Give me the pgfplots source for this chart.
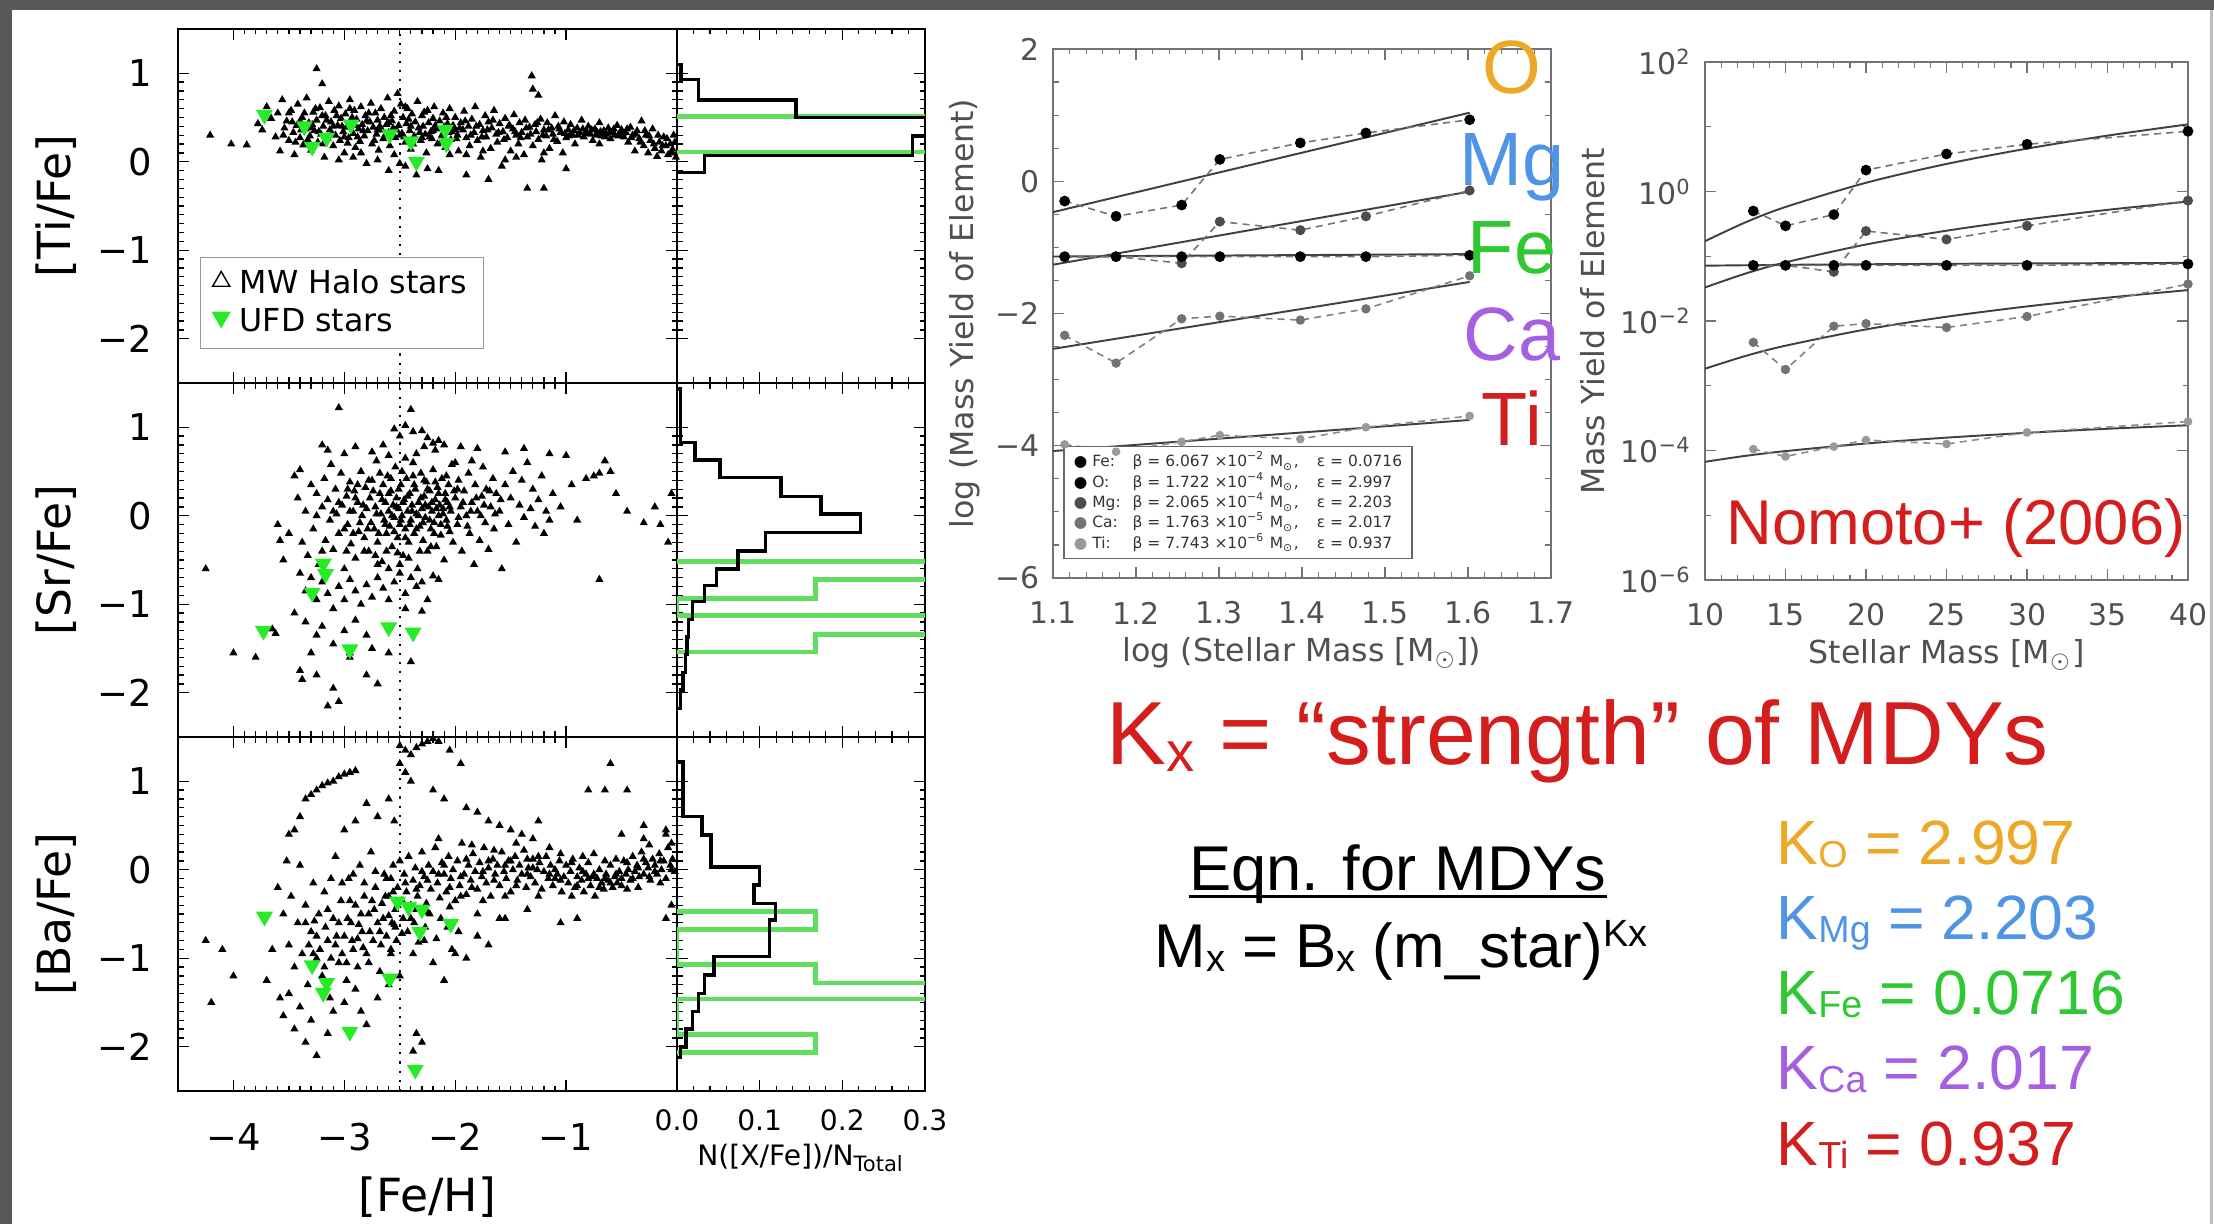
\documentclass[border=0pt]{standalone}
\usepackage{fontspec}
\usepackage{pgfplots}
\pgfplotsset{compat=1.18}
\setmainfont{DejaVu Sans}
\newfontfamily\arial{Liberation Sans}
\definecolor{ufdgreen}{RGB}{40,235,40}
\definecolor{histgreen}{RGB}{95,222,95}
\definecolor{cO}{RGB}{238,168,40}
\definecolor{cMg}{RGB}{80,148,230}
\definecolor{cFe}{RGB}{45,200,50}
\definecolor{cCa}{RGB}{165,95,225}
\definecolor{cTi}{RGB}{210,30,30}
\definecolor{kred}{RGB}{212,30,30}
\definecolor{slidegray}{RGB}{88,88,88}
\definecolor{axgray}{RGB}{115,115,115}
\definecolor{txtgray}{RGB}{80,80,80}
\newcommand{\ksub}[1]{\raisebox{-1pt}{\fontsize{10.7}{11}\selectfont #1}}
\newcommand{\xsub}[1]{\raisebox{-1.4pt}{\fontsize{10.8}{11}\selectfont #1}}
\newcommand{\xsup}[1]{\raisebox{5.9pt}{\fontsize{10.8}{11}\selectfont #1}}
\pgfplotsset{
  leftbase/.style={scale only axis, height=35.4mm, ymin=-2.5, ymax=1.5, ytick={-2,-1,0,1},
    minor y tick num=9, tick align=inside, major tick length=1.1mm, minor tick length=0.55mm,
    tick style={black, line width=0.35pt}, axis line style={black, line width=0.8pt}},
  scat/.style={leftbase, width=49.9mm, xmin=-4.5, xmax=0, xtick={-4,-3,-2,-1}, minor x tick num=9,
    yticklabels={−2,−1,0,1},
    y tick label style={anchor=east, inner sep=0pt, xshift=-2.5mm, font=\fontsize{10.5}{12}\selectfont},
    x tick label style={anchor=center, inner sep=0pt, yshift=-4.6mm, font=\fontsize{10.5}{12}\selectfont},
    ylabel style={at={(axis description cs:-0.2445,0.5)}, anchor=center, font=\fontsize{13}{15}\selectfont}},
  hist/.style={leftbase, width=24.8mm, xmin=0, xmax=0.3, xtick={0,0.1,0.2,0.3}, minor x tick num=4, yticklabels={},
    x tick label style={anchor=center, inner sep=0pt, yshift=-2.9mm, font=\fontsize{8}{10}\selectfont}},
  halo/.style={only marks, mark=triangle*, mark size=0.95pt, black, forget plot},
  ufd/.style={only marks, mark=triangle*, mark size=2.4pt, mark options={rotate=180, fill=ufdgreen, draw=ufdgreen}, forget plot},
  hblack/.style={black, line width=1pt, forget plot, sharp plot},
  hgreen/.style={histgreen, line width=1.4pt, forget plot, sharp plot},
  vdot/.style={black, dotted, line width=0.6pt, forget plot},
  yieldax/.style={scale only axis, tick align=inside, major tick length=1.1mm, minor tick length=0.55mm,
    axis line style={axgray, line width=0.5pt}, tick style={axgray, line width=0.35pt},
    x tick label style={anchor=center, inner sep=0pt, yshift=-3.5mm, font=\fontsize{8.5}{10}\selectfont, text=txtgray},
    y tick label style={anchor=east, inner sep=0pt, xshift=-1.3mm, font=\fontsize{8.5}{10}\selectfont, text=txtgray},
    xlabel style={anchor=center, font=\fontsize{9}{11}\selectfont, text=txtgray},
    ylabel style={anchor=center, font=\fontsize{9}{11}\selectfont, text=txtgray}},
  fitline/.style={black!75, line width=0.55pt},
  dO/.style={dash pattern=on 2pt off 1.5pt, black!55, line width=0.45pt, mark=*, mark size=1.3pt, mark options={solid, fill=black, draw=black}},
  dMg/.style={dash pattern=on 2pt off 1.5pt, black!55, line width=0.45pt, mark=*, mark size=1.2pt, mark options={solid, fill=black!70, draw=black!70}},
  dFe/.style={dash pattern=on 2pt off 1.5pt, black!55, line width=0.45pt, mark=*, mark size=1.3pt, mark options={solid, fill=black, draw=black}},
  dCa/.style={dash pattern=on 2pt off 1.5pt, black!50, line width=0.45pt, mark=*, mark size=1.1pt, mark options={solid, fill=black!55, draw=black!55}},
  dTi/.style={dash pattern=on 2pt off 1.5pt, black!45, line width=0.45pt, mark=*, mark size=1.0pt, mark options={solid, fill=black!40, draw=black!40}},
}
\begin{document}
\begin{tikzpicture}
\useasboundingbox (0,0) rectangle (221.4mm,-122.4mm);
\fill[slidegray] (0,0) rectangle (221.4mm,-122.4mm);
\fill[white] (1.2mm,-1.0mm) rectangle (221.4mm,-122.4mm);
\draw[black!25, line width=0.3mm] (221.1mm,-1.0mm) -- (221.1mm,-122.4mm);
% ---------------- panel 1: Ti
\begin{axis}[scat, at={(17.8mm,-2.9mm)}, anchor=north west, xticklabels={}, ylabel={[Ti/Fe]},
  legend style={at={(0.044,0.096)}, anchor=south west, draw=black!40, fill=white, inner xsep=1.2mm, inner ysep=0.8mm,
  font=\fontsize{9}{10}\selectfont, nodes={inner sep=0.4mm}, row sep=0.1mm, column sep=0.6mm}, legend cell align=left]
\addplot[vdot] coordinates {(-2.5,-2.5) (-2.5,1.5)};
\addplot[halo] coordinates {
(-4.21,0.30) (-4.02,0.20) (-3.88,0.19) (-3.78,0.43) (-3.74,0.36) (-3.70,0.62) (-3.66,0.49) (-3.62,0.28) (-3.60,0.55) (-3.58,0.12) (-3.56,0.70) (-3.54,0.38) (-3.52,0.46) (-3.50,0.24)
(-3.48,0.58) (-3.46,0.33) (-3.45,0.08) (-3.43,0.41) (-3.42,0.65) (-3.40,0.27) (-3.38,0.50) (-3.37,0.19) (-3.35,0.37) (-3.34,0.72) (-3.32,0.44) (-3.31,0.29) (-3.30,0.13) (-3.28,0.56) (-3.27,0.35) (-3.25,1.05) (-3.25,0.47) (-3.24,0.22) (-3.22,0.61) (-3.21,0.31) (-3.20,0.88) (-3.19,0.40) (-3.18,0.05) (-3.17,0.52) (-3.15,0.26) (-3.14,0.68) (-3.13,0.36) (-3.12,0.45) (-3.10,0.18) (-3.09,0.58) (-3.08,0.30) (-3.06,0.41) (-3.05,0.63) (-3.04,0.24) (-3.03,0.49) (-3.01,0.34) (-3.00,0.10) (-2.99,0.54) (-2.98,0.39) (-2.96,0.27) (-2.95,0.70) (-2.94,0.44) (-2.92,0.32) (-2.91,0.58) (-2.90,0.16) (-2.89,0.48) (-2.87,0.37) (-2.86,0.23) (-2.85,0.62) (-2.84,0.42) (-2.82,0.29) (-2.81,0.52) (-2.80,-0.02) (-2.79,0.35) (-2.77,0.45) (-2.76,0.66) (-2.75,0.20) (-2.74,0.39) (-2.72,0.55) (-2.71,0.31) (-2.70,0.47) (-2.69,0.13) (-2.67,0.60) (-2.66,0.36) (-2.65,0.26) (-2.64,0.50) (-2.62,0.42) (-2.61,0.72) (-2.60,0.33) (-2.59,0.18) (-2.57,0.46) (-2.56,0.38) (-2.55,0.57) (-2.54,0.27) (-2.52,0.77) (-2.51,0.41) (-2.50,-0.02) (-2.49,0.65) (-2.48,0.32) (-2.47,0.50) (-2.45,0.22) (-2.44,0.43) (-2.43,0.60) (-2.41,0.35) (-2.40,0.14) (-2.39,0.54) (-2.37,0.29) (-2.36,0.45) (-2.35,-0.15) (-2.34,0.68) (-2.33,0.38) (-2.31,0.24) (-2.30,0.52) (-2.29,0.40) (-2.27,0.31) (-2.26,0.10) (-2.25,0.58) (-2.24,0.44) (-2.22,0.34) (-2.21,0.26) (-2.20,0.49) (-2.19,0.62) (-2.17,0.37) (-2.16,0.20) (-2.15,-0.10) (-2.14,0.46) (-2.12,0.30) (-2.11,0.55) (-2.10,0.39) (-2.09,0.16) (-2.07,0.43) (-2.06,0.33) (-2.05,0.60) (-2.04,0.25)
(-2.02,0.41) (-2.00,0.50) (-1.98,0.30) (-1.97,0.12) (-1.95,0.44) (-1.93,0.36) (-1.92,0.57) (-1.90,0.27) (-1.88,0.40) (-1.87,0.18) (-1.85,0.48) (-1.83,0.33) (-1.82,0.62) (-1.80,0.24) (-1.78,0.42) (-1.77,0.05) (-1.75,0.35) (-1.73,0.52) (-1.72,0.28) (-1.70,0.45) (-1.68,0.15) (-1.67,0.38) (-1.65,0.58) (-1.63,0.31) (-1.62,0.22) (-1.60,0.43) (-1.58,-0.05) (-1.57,0.34) (-1.55,0.49) (-1.53,0.27) (-1.52,0.40) (-1.50,0.12) (-1.48,0.37) (-1.47,0.53) (-1.45,0.30) (-1.43,0.20) (-1.42,0.44) (-1.40,0.33) (-1.38,0.08) (-1.37,0.47) (-1.35,-0.30) (-1.35,0.28) (-1.33,0.39) (-1.31,0.97) (-1.30,0.82) (-1.30,0.18) (-1.28,0.42) (-1.27,0.34) (-1.25,0.75) (-1.25,0.25) (-1.23,0.48) (-1.22,0.02) (-1.20,-0.30) (-1.20,0.36) (-1.18,0.29) (-1.17,0.44) (-1.15,0.15) (-1.13,0.38) (-1.12,0.31) (-1.10,0.52) (-1.08,0.23) (-1.07,0.40) (-1.05,0.33) (-1.03,0.10) (-1.02,0.45) (-1.00,-0.08) (-1.00,0.27)
(-0.98,0.36) (-0.96,0.42) (-0.94,0.30) (-0.92,0.20) (-0.90,0.38) (-0.88,0.33) (-0.86,0.47) (-0.84,0.28) (-0.82,0.35) (-0.80,0.40) (-0.78,0.31) (-0.76,0.24) (-0.74,0.37) (-0.72,0.33) (-0.70,0.44) (-0.68,0.29) (-0.66,0.35) (-0.64,0.31) (-0.62,0.38) (-0.60,0.26) (-0.58,0.34) (-0.56,0.30) (-0.54,0.41) (-0.52,0.32) (-0.50,0.36) (-0.48,0.28) (-0.46,0.33) (-0.44,0.22) (-0.42,0.39) (-0.40,0.30) (-0.38,0.12) (-0.36,0.35) (-0.34,0.26) (-0.32,0.46) (-0.30,0.18) (-0.28,0.30) (-0.26,0.10) (-0.24,0.24) (-0.22,0.37) (-0.20,0.15) (-0.18,0.06) (-0.16,0.22) (-0.14,0.12) (-0.12,0.28) (-0.10,0.18) (-0.08,0.08) (-0.06,0.20) (-0.04,0.14) (-0.02,0.22) (-0.01,0.05)
(-2.45,-0.05) (-2.60,-0.10) (-2.25,-0.08) (-1.90,-0.15) (-1.70,-0.20) (-3.05,0.02) (-2.92,0.05) (-2.70,0.02) (-1.45,0.05) (-1.55,0.02)
(-3.55,0.30) (-3.47,0.45) (-3.44,0.22) (-3.39,0.36) (-3.36,0.55) (-3.33,0.25) (-3.29,0.42) (-3.26,0.60) (-3.23,0.34) (-3.19,0.20) (-3.16,0.47) (-3.11,0.31) (-3.07,0.52) (-3.02,0.40) (-2.97,0.21) (-2.93,0.50) (-2.88,0.28) (-2.83,0.35) (-2.78,0.55) (-2.73,0.24) (-2.68,0.40) (-2.63,0.30) (-2.58,0.52) (-2.53,0.36) (-2.46,0.28) (-2.42,0.48) (-2.38,0.20) (-2.32,0.33) (-2.28,0.56) (-2.23,0.28) (-2.18,0.41) (-2.13,0.22) (-2.08,0.50) (-2.03,0.34) (-1.99,0.26) (-1.96,0.38) (-1.91,0.46) (-1.86,0.30) (-1.81,0.40) (-1.76,0.28) (-1.71,0.36) (-1.66,0.47) (-1.61,0.33) (-1.56,0.25) (-1.51,0.41) (-1.46,0.34) (-1.41,0.27) (-1.36,0.38) (-1.32,0.31) (-1.26,0.44) (-1.21,0.30) (-1.16,0.36) (-1.11,0.25) (-1.06,0.37) (-1.01,0.32) (-0.97,0.29) (-0.93,0.35) (-0.89,0.30) (-0.85,0.37) (-0.81,0.32) (-0.77,0.36) (-0.73,0.30) (-0.69,0.34) (-0.65,0.28) (-0.61,0.33) (-0.57,0.37) (-0.53,0.29) (-0.49,0.32) (-0.45,0.37) (-0.41,0.27) (-0.37,0.31) (-0.33,0.22) (-0.29,0.35) (-0.25,0.29) (-0.21,0.20) (-0.17,0.30) (-0.13,0.18) (-0.09,0.26) (-0.05,0.10) (-0.03,0.30) (-3.00,0.28) (-2.90,0.41) (-2.80,0.46) (-2.70,0.36) (-2.60,0.44) (-2.50,0.30) (-2.40,0.40) (-2.30,0.27) (-2.20,0.35) (-2.10,0.27) (-2.00,0.36) (-3.10,0.40) (-3.20,0.52) (-3.30,0.38) (-3.40,0.46) (-2.85,0.10) (-2.55,0.08) (-2.05,0.08) (-1.75,0.12) (-1.20,0.10) (-0.70,0.20) (-3.50,0.55) (-2.95,0.60) (-2.45,0.62) (-1.90,0.08)
};
\addplot[ufd] coordinates {(-3.72,0.53) (-3.36,0.40) (-3.29,0.17) (-3.16,0.27) (-2.94,0.42) (-2.59,0.31) (-2.40,0.23) (-2.35,0.00) (-2.09,0.36) (-2.08,0.21)};
\addlegendimage{legend image code/.code={\draw[black, line width=0.4pt, mark size=2.8pt] plot[mark=triangle] coordinates {(0.1cm,0.03cm)};}}
\addlegendentry{MW Halo stars}
\addlegendimage{legend image code/.code={\draw[ufdgreen, mark size=2.8pt] plot[mark=triangle*, mark options={rotate=180}] coordinates {(0.1cm,0.05cm)};}}
\addlegendentry{UFD stars}
\end{axis}
\begin{axis}[hist, at={(67.7mm,-2.9mm)}, anchor=north west, xticklabels={}]
\addplot[hgreen] coordinates {(0,0.51) (0.5,0.51) (0.5,0.11) (0,0.11)};
\addplot[hblack] coordinates {(0,1.10) (0.005,1.10) (0.005,0.93) (0.026,0.93) (0.026,0.70) (0.144,0.70) (0.144,0.50) (0.40,0.50) (0.40,0.29) (0.285,0.29) (0.285,0.07) (0.033,0.07) (0.033,-0.12) (0,-0.12)};
\end{axis}
% ---------------- panel 2: Sr
\begin{axis}[scat, at={(17.8mm,-38.3mm)}, anchor=north west, xticklabels={}, ylabel={[Sr/Fe]}]
\addplot[vdot] coordinates {(-2.5,-2.5) (-2.5,1.5)};
\addplot[halo] coordinates {
(-3.05,1.22) (-2.40,1.20) (-2.55,0.98) (-2.50,0.90) (-2.45,1.02) (-2.38,0.95) (-2.30,0.96) (-2.25,0.88) (-2.20,0.82) (-2.15,0.85) (-2.28,0.78) (-2.18,0.74) (-2.10,0.80) (-1.95,0.78) (-1.80,0.76) (-1.55,0.72) (-1.38,0.76) (-1.15,0.70) (-3.20,0.80) (-3.15,0.74) (-3.00,0.70) (-2.90,0.78) (-2.75,0.72) (-2.65,0.80) (-2.60,0.68)
(-3.45,0.45) (-3.42,0.20) (-3.40,0.52) (-3.38,-0.30) (-3.35,0.05) (-3.33,-0.45) (-3.30,0.35) (-3.28,-0.15) (-3.25,0.25) (-3.23,-0.55) (-3.20,0.10) (-3.18,0.42) (-3.17,-0.28) (-3.15,0.18) (-3.13,-0.05) (-3.12,0.58) (-3.10,-0.38) (-3.08,0.30) (-3.07,0.02) (-3.05,-0.20) (-3.03,0.48) (-3.02,0.12) (-3.00,-0.60) (-2.98,0.22) (-2.97,-0.10) (-2.95,0.38) (-2.94,-0.32) (-2.92,0.05) (-2.91,0.28) (-2.90,-0.48) (-2.88,0.15) (-2.87,-0.18) (-2.85,0.50) (-2.84,0.00) (-2.82,-0.25) (-2.81,0.32) (-2.80,0.08) (-2.78,-0.40) (-2.77,0.20) (-2.76,-0.08) (-2.75,0.40) (-2.73,-0.15) (-2.72,0.10) (-2.71,0.62) (-2.70,-0.30) (-2.68,0.25) (-2.67,0.02) (-2.66,-0.52) (-2.65,0.35) (-2.64,-0.05) (-2.63,0.15) (-2.62,-0.20) (-2.61,0.45) (-2.60,0.05) (-2.59,-0.12) (-2.58,0.28) (-2.57,-0.35) (-2.56,0.12) (-2.55,-0.02) (-2.54,0.55) (-2.53,0.20) (-2.52,-0.25) (-2.51,0.08) (-2.50,-0.10) (-2.49,0.35) (-2.48,0.00) (-2.47,-0.45) (-2.46,0.18) (-2.45,-0.15) (-2.44,0.42) (-2.43,0.05) (-2.42,-0.30) (-2.41,0.25) (-2.40,-0.05) (-2.39,0.12) (-2.38,0.60) (-2.37,-0.20) (-2.36,0.30) (-2.35,0.02) (-2.34,-0.60) (-2.33,0.15) (-2.32,-0.12) (-2.31,0.48) (-2.30,0.08) (-2.29,-0.28) (-2.28,0.22) (-2.27,-0.02) (-2.26,0.38) (-2.25,-0.40) (-2.24,0.10) (-2.23,0.28) (-2.22,-0.15) (-2.21,0.05) (-2.20,0.52) (-2.19,-0.08) (-2.18,0.18) (-2.17,-0.35) (-2.16,0.32) (-2.15,0.00) (-2.14,0.12) (-2.13,-0.22) (-2.12,0.42) (-2.11,0.08) (-2.10,-0.50) (-2.09,0.25) (-2.08,-0.05) (-2.07,0.15) (-2.06,0.35) (-2.05,-0.18) (-2.04,0.05) (-2.03,0.58) (-2.02,-0.30) (-2.00,0.20) (-1.98,-0.10) (-1.97,0.40) (-1.95,0.10) (-1.94,-0.40) (-1.92,0.28) (-1.90,0.00) (-1.88,0.48) (-1.87,-0.20) (-1.85,0.15) (-1.83,-0.55) (-1.82,0.35) (-1.80,0.05) (-1.78,-0.28) (-1.76,0.22) (-1.75,0.55) (-1.73,-0.08) (-1.72,0.30) (-1.70,-0.38) (-1.68,0.10) (-1.66,0.42) (-1.65,-0.15) (-1.63,0.25) (-1.60,0.05) (-1.58,-0.60) (-1.55,0.35) (-1.52,-0.10) (-1.50,0.20) (-1.48,0.50) (-1.45,-0.30) (-1.42,0.12) (-1.40,0.40) (-1.38,-0.02) (-1.35,0.60) (-1.32,0.08) (-1.30,0.30) (-1.28,-0.12) (-1.25,0.18) (-1.22,0.45) (-1.20,-0.20) (-1.18,0.05) (-1.15,-0.05) (-1.12,0.25)
(-1.05,0.10) (-0.95,0.35) (-0.90,-0.05) (-0.82,0.42) (-0.75,0.45) (-0.70,0.48) (-0.65,0.62) (-0.55,0.25) (-0.45,0.05) (-0.30,-0.08) (-0.20,0.10) (-0.15,-0.10) (-0.08,-0.30) (-0.05,0.25) (-0.60,0.50) (-1.00,0.68) (-0.70,-0.72)
(-3.60,-0.10) (-3.58,-0.28) (-3.55,-0.50) (-3.50,-0.20) (-3.40,-0.65) (-3.35,-0.85) (-3.30,-0.70) (-3.25,-0.95) (-3.20,-0.75) (-3.15,-0.88) (-3.10,-1.05) (-3.05,-0.80) (-3.00,-0.95) (-2.95,-0.72) (-2.90,-0.85) (-2.85,-1.00) (-2.80,-0.78) (-2.75,-0.92) (-2.70,-0.70) (-2.65,-0.82) (-2.60,-0.95) (-2.55,-0.75) (-2.50,-0.65) (-2.45,-0.88) (-2.40,-0.70) (-2.35,-0.80) (-2.30,-0.75) (-2.25,-0.95) (-2.20,-0.68) (-2.15,-0.72) (-2.45,-1.05) (-2.30,-1.08) (-3.45,-1.10) (-3.35,-1.20) (-3.25,-1.35) (-3.20,-1.25) (-3.10,-1.45) (-3.00,-1.30) (-2.90,-1.18) (-2.80,-1.35) (-2.75,-1.50) (-2.95,-1.55) (-3.30,-1.55) (-3.40,-1.75) (-3.38,-1.85) (-3.25,-1.80) (-3.10,-1.95) (-3.15,-2.15) (-3.05,-2.10) (-2.80,-1.80) (-2.70,-1.90) (-2.40,-1.65) (-2.60,-1.55) (-3.65,-1.28) (-3.62,-1.33) (-3.80,-1.60) (-4.25,-0.60) (-4.00,-1.55) (-2.95,-1.60)
(-2.95,0.05) (-2.90,0.20) (-2.86,-0.08) (-2.83,0.12) (-2.79,-0.15) (-2.74,0.28) (-2.71,0.02) (-2.69,-0.20) (-2.66,0.18) (-2.63,-0.10) (-2.60,0.25) (-2.57,0.00) (-2.55,-0.18) (-2.53,0.10) (-2.51,0.30) (-2.49,-0.05) (-2.47,0.15) (-2.45,-0.25) (-2.43,0.22) (-2.41,-0.10) (-2.39,0.05) (-2.37,0.35) (-2.35,-0.15) (-2.33,0.00) (-2.31,0.20) (-2.29,-0.08) (-2.27,0.12) (-2.25,0.30) (-2.23,-0.05) (-2.21,0.15) (-2.19,-0.20) (-2.17,0.08) (-2.15,0.25) (-2.13,-0.10) (-2.11,0.02) (-2.09,0.18) (-2.07,-0.12) (-2.05,0.10) (-2.01,0.28) (-1.97,-0.02) (-1.93,0.15) (-1.89,-0.12) (-1.86,0.05) (-1.81,0.20) (-1.77,0.00) (-1.74,0.12) (-1.69,0.28) (-1.64,0.02) (-1.59,0.18) (-2.97,0.30) (-3.00,-0.15) (-3.05,0.15) (-3.10,0.05) (-2.92,-0.20) (-2.88,0.35) (-2.78,0.40) (-2.68,0.48) (-2.58,0.42) (-2.48,0.50) (-2.38,0.45) (-2.28,0.40) (-2.18,0.38) (-2.08,0.45) (-1.98,0.30) (-2.82,-0.40) (-2.72,-0.45) (-2.62,-0.40) (-2.52,-0.42) (-2.42,-0.48) (-2.32,-0.40) (-2.22,-0.35) (-2.60,-0.60) (-2.70,-0.55) (-2.50,-0.55) (-2.98,-0.40) (-3.20,-0.40) (-3.25,0.00) (-1.85,0.62) (-2.00,0.60) (-2.35,0.70) (-2.45,0.65)
};
\addplot[ufd] coordinates {(-3.19,-0.54) (-3.17,-0.66) (-3.29,-0.87) (-3.73,-1.30) (-2.60,-1.26) (-2.38,-1.32) (-2.95,-1.51)};
\end{axis}
\begin{axis}[hist, at={(67.7mm,-38.3mm)}, anchor=north west, xticklabels={}]
\addplot[hgreen] coordinates {(0,-0.52) (0.40,-0.52) (0.40,-0.72) (0.167,-0.72) (0.167,-0.93) (0,-0.93) (0,-1.13) (0.40,-1.13) (0.40,-1.34) (0.167,-1.34) (0.167,-1.54) (0,-1.54)};
\addplot[hblack] coordinates {(0,1.43) (0.004,1.43) (0.004,0.83) (0.022,0.83) (0.022,0.63) (0.052,0.63) (0.052,0.43) (0.126,0.43) (0.126,0.22) (0.174,0.22) (0.174,0.02) (0.222,0.02) (0.222,-0.19) (0.107,-0.19) (0.107,-0.40) (0.074,-0.40) (0.074,-0.60) (0.048,-0.60) (0.048,-0.79) (0.033,-0.79) (0.033,-0.97) (0.019,-0.97) (0.019,-1.17) (0.014,-1.17) (0.014,-1.37) (0.012,-1.37) (0.012,-1.57) (0.010,-1.57) (0.010,-1.77) (0.007,-1.77) (0.007,-1.97) (0.004,-1.97) (0.004,-2.18) (0,-2.18)};
\end{axis}
% ---------------- panel 3: Ba
\begin{axis}[scat, at={(17.8mm,-73.7mm)}, anchor=north west, xticklabels={−4,−3,−2,−1}, ylabel={[Ba/Fe]},
  xlabel={[Fe/H]}, xlabel style={at={(axis description cs:0.5,-0.30)}, anchor=center, font=\fontsize{13}{15}\selectfont}]
\addplot[vdot] coordinates {(-2.5,-2.5) (-2.5,1.5)};
\addplot[halo] coordinates {
(-3.35,0.80) (-3.30,0.85) (-3.25,0.90) (-3.20,0.95) (-3.15,0.98) (-3.10,1.00) (-3.05,1.05) (-3.00,1.08) (-2.95,1.10) (-2.90,1.12) (-2.50,1.40) (-2.45,1.35) (-2.40,1.30) (-2.35,1.38) (-2.30,1.42) (-2.25,1.45) (-2.20,1.48) (-2.15,1.45) (-2.05,1.35) (-1.95,1.20) (-2.50,1.20) (-2.45,1.10) (-2.40,1.00) (-2.20,0.90) (-2.10,0.80) (-1.90,0.70) (-1.80,0.65) (-1.70,0.55) (-1.60,0.50) (-1.50,0.45) (-1.40,0.40) (-1.30,0.35) (-1.25,0.55) (-0.60,1.20) (-0.80,0.90) (-0.65,0.90) (-0.45,0.90) (-3.40,0.60) (-3.45,0.45) (-3.50,0.40) (-2.80,0.75) (-2.70,0.60) (-2.60,0.80) (-2.55,0.55) (-2.90,0.55) (-3.00,0.45)
(-2.60,-0.30) (-2.58,-0.10) (-2.56,0.05) (-2.54,-0.45) (-2.52,-0.20) (-2.50,0.10) (-2.48,-0.35) (-2.46,-0.05) (-2.44,-0.25) (-2.42,0.15) (-2.40,-0.40) (-2.38,-0.12) (-2.36,0.02) (-2.34,-0.30) (-2.32,-0.18) (-2.30,0.20) (-2.28,-0.08) (-2.26,-0.38) (-2.24,0.05) (-2.22,-0.22) (-2.20,-0.02) (-2.18,0.25) (-2.16,-0.15) (-2.14,-0.32) (-2.12,0.08) (-2.10,-0.05) (-2.08,-0.25) (-2.06,0.15) (-2.04,-0.10) (-2.02,0.00) (-2.00,-0.35) (-1.98,0.10) (-1.96,-0.18) (-1.94,0.30) (-1.92,-0.05) (-1.90,-0.28) (-1.88,0.05) (-1.86,-0.12) (-1.84,0.18) (-1.82,-0.02) (-1.80,-0.22) (-1.78,0.08) (-1.76,-0.08) (-1.74,0.25) (-1.72,-0.15) (-1.70,0.02) (-1.68,-0.30) (-1.66,0.12) (-1.64,-0.05) (-1.62,0.05) (-1.60,-0.18) (-1.58,0.20) (-1.56,-0.02) (-1.54,-0.10) (-1.52,0.10) (-1.50,-0.25) (-1.48,0.00) (-1.46,0.15) (-1.44,-0.12) (-1.42,0.05) (-1.40,-0.05) (-1.38,0.22) (-1.36,-0.20) (-1.34,0.02) (-1.32,-0.08) (-1.30,0.12) (-1.28,-0.15) (-1.26,0.00) (-1.24,0.08) (-1.22,-0.22) (-1.20,-0.02) (-1.18,0.15) (-1.16,-0.10) (-1.14,0.05) (-1.12,-0.18) (-1.10,0.00) (-1.08,-0.05) (-1.06,0.10) (-1.04,-0.25) (-1.02,-0.08) (-1.00,0.05) (-0.98,-0.15) (-0.96,-0.02) (-0.94,0.12) (-0.92,-0.20) (-0.90,-0.08) (-0.88,0.02) (-0.86,-0.12) (-0.84,-0.25) (-0.82,-0.05) (-0.80,0.08) (-0.78,-0.18) (-0.76,-0.08) (-0.74,-0.30) (-0.72,-0.10) (-0.70,0.00) (-0.68,-0.15) (-0.66,-0.22) (-0.64,-0.05) (-0.62,-0.12) (-0.60,0.05) (-0.58,-0.20) (-0.56,-0.08) (-0.54,-0.15) (-0.52,-0.02) (-0.50,-0.10) (-0.48,0.10) (-0.46,-0.05) (-0.44,0.00) (-0.42,-0.12) (-0.40,0.15) (-0.38,-0.02) (-0.36,0.05) (-0.34,-0.08) (-0.32,0.20) (-0.30,-0.05) (-0.28,0.08) (-0.26,0.02) (-0.24,-0.12) (-0.22,0.12) (-0.20,0.05) (-0.18,-0.05) (-0.16,0.18) (-0.14,0.00) (-0.12,0.10) (-0.10,-0.10) (-0.08,0.25) (-0.06,0.05) (-0.04,0.12) (-0.02,-0.02)
(-2.25,-0.48) (-2.15,0.35) (-2.05,-0.42) (-1.95,-0.30) (-1.85,0.28) (-1.75,-0.35) (-1.65,0.22) (-1.55,-0.30) (-1.45,0.30) (-1.35,0.12) (-1.25,-0.30) (-1.15,0.25) (-1.05,0.18) (-0.95,-0.30) (-0.85,0.15) (-0.75,0.18) (-0.65,0.10) (-0.55,0.12) (-0.45,-0.22) (-0.35,-0.20) (-0.25,0.28) (-0.15,-0.15) (-0.05,0.30) (-0.30,0.35) (-0.10,0.40) (-1.05,-0.60) (-1.35,-0.45) (-1.55,-0.55) (-1.80,-0.50) (-0.50,0.40) (-0.30,0.50) (-0.10,0.45)
(-3.60,-0.20) (-3.55,-0.50) (-3.52,0.10) (-3.50,-0.85) (-3.48,-0.30) (-3.45,-1.10) (-3.42,-0.60) (-3.40,0.05) (-3.38,-0.95) (-3.35,-0.40) (-3.33,-1.30) (-3.30,-0.70) (-3.28,-0.15) (-3.25,-1.00) (-3.23,-0.50) (-3.20,-1.20) (-3.18,-0.25) (-3.15,-0.80) (-3.13,-1.45) (-3.10,-0.55) (-3.08,0.15) (-3.05,-1.05) (-3.03,-0.35) (-3.00,-0.75) (-2.98,-1.25) (-2.96,-0.10) (-2.94,-0.60) (-2.92,-0.90) (-2.90,-0.40) (-2.88,-1.10) (-2.86,0.05) (-2.84,-0.70) (-2.82,-0.30) (-2.80,-0.95) (-2.78,-0.50) (-2.76,0.20) (-2.74,-0.80) (-2.72,-0.20) (-2.70,-0.60) (-2.68,-1.15) (-2.66,-0.38) (-2.64,-0.05) (-2.62,-0.75) (-2.60,-0.52) (-2.58,-0.90) (-2.56,-0.25) (-2.54,-0.65) (-2.52,-0.40)
(-3.32,-0.85) (-3.27,-0.58) (-3.22,-0.90) (-3.17,-0.65) (-3.12,-1.00) (-3.07,-0.75) (-3.02,-0.95) (-2.97,-0.55) (-2.93,-0.80) (-2.87,-0.62) (-2.83,-0.88) (-2.77,-0.70) (-2.73,-0.45) (-2.67,-0.85) (-2.63,-0.30) (-2.57,-0.60) (-2.53,-0.80) (-2.47,-0.55) (-2.43,-0.70) (-2.37,-0.60) (-2.33,-0.82) (-2.27,-0.65) (-2.23,-0.50) (-2.17,-0.78) (-2.13,-0.55) (-2.07,-0.65) (-2.03,-0.90) (-1.97,-0.70) (-1.90,-1.00) (-1.80,-0.75)
(-4.25,-0.80) (-4.10,-0.90) (-4.00,-1.20) (-4.20,-1.50) (-3.70,-1.25) (-3.65,-0.90) (-3.58,-1.45) (-3.55,-1.65) (-3.50,-1.40) (-3.40,-1.55) (-3.45,-1.80) (-3.35,-1.95) (-3.30,-1.70) (-3.25,-2.10) (-3.15,-1.85) (-3.10,-1.60) (-3.00,-1.50) (-2.90,-1.35) (-2.85,-1.60) (-2.80,-1.75) (-2.70,-1.45) (-2.60,-1.30) (-2.50,-1.20) (-2.35,-1.85) (-2.30,-1.95) (-2.20,-1.05) (-2.10,-1.25) (-2.00,-0.95) (-1.70,-0.85) (-1.60,-0.55) (-0.90,-0.55) (-2.38,-2.05) (-0.10,-0.55) (-0.05,-0.40)
(-2.45,-0.15) (-2.35,-0.22) (-2.25,-0.12) (-2.15,-0.05) (-2.05,-0.20) (-1.95,-0.08) (-1.85,-0.20) (-1.75,-0.02) (-1.65,-0.12) (-1.55,0.05) (-1.45,-0.18) (-1.35,-0.05) (-1.25,0.15) (-1.15,-0.05) (-1.05,-0.12) (-0.95,0.08) (-0.85,-0.02) (-0.75,-0.05) (-0.65,-0.10) (-0.55,-0.05) (-0.45,0.08) (-0.35,0.02) (-0.25,-0.08) (-0.15,0.10) (-0.05,0.00) (-0.90,-0.18) (-0.80,-0.10) (-0.70,-0.20) (-0.60,-0.15) (-0.50,-0.18) (-0.40,-0.10) (-0.30,0.12) (-0.20,-0.02) (-1.10,-0.10) (-1.30,0.02) (-1.50,0.10) (-1.70,0.10) (-1.90,0.12) (-2.10,0.05) (-2.30,-0.02) (-2.40,-0.55) (-2.35,-0.45) (-2.55,-0.62) (-2.65,-0.55) (-2.75,-0.35) (-2.85,-0.50) (-2.95,-0.35) (-3.05,-0.60) (-3.15,-0.45) (-3.25,-0.75) (-3.35,-0.60) (-2.62,-0.10) (-2.72,-0.02) (-2.82,-0.15) (-2.92,-0.05) (-3.02,-0.15) (-3.12,-0.10) (-2.48,-0.72) (-2.58,-0.95) (-2.68,-0.70) (-2.78,-1.05) (-2.88,-0.78) (-2.98,-1.05) (-3.08,-0.85) (-3.18,-1.10) (-3.28,-0.95) (-2.38,-0.95) (-2.28,-0.80)
};
\addplot[ufd] coordinates {(-3.72,-0.53) (-2.52,-0.36) (-2.42,-0.42) (-2.30,-0.45) (-2.32,-0.70) (-2.04,-0.61) (-3.29,-1.08) (-3.16,-1.28) (-3.19,-1.39) (-2.59,-1.23) (-2.95,-1.83) (-2.36,-2.26)};
\end{axis}
\begin{axis}[hist, at={(67.7mm,-73.7mm)}, anchor=north west, xticklabels={0.0,0.1,0.2,0.3},
  xlabel={N([X/Fe])/N\textsubscript{Total}}, xlabel style={at={(axis description cs:0.5,-0.19)}, anchor=center, font=\fontsize{8}{10}\selectfont}]
\addplot[hgreen] coordinates {(0,-0.47) (0.167,-0.47) (0.167,-0.67) (0,-0.67) (0,-1.07) (0.167,-1.07) (0.167,-1.28) (0.40,-1.28) (0.40,-1.46) (0,-1.46) (0,-1.86) (0.167,-1.86) (0.167,-2.07) (0,-2.07)};
\addplot[hblack] coordinates {(0,1.22) (0.007,1.22) (0.007,0.60) (0.030,0.60) (0.030,0.39) (0.041,0.39) (0.041,0.03) (0.100,0.03) (0.100,-0.17) (0.093,-0.17) (0.093,-0.38) (0.119,-0.38) (0.119,-0.57) (0.112,-0.57) (0.112,-0.98) (0.045,-0.98) (0.045,-1.19) (0.033,-1.19) (0.033,-1.40) (0.026,-1.40) (0.026,-1.60) (0.019,-1.60) (0.019,-1.80) (0.011,-1.80) (0.011,-2.00) (0.004,-2.00) (0.004,-2.12) (0,-2.12)};
\end{axis}
% ---------------- middle: log yields
\begin{axis}[yieldax, width=49.8mm, height=52.9mm, at={(105.3mm,-4.9mm)}, anchor=north west,
  xmin=1.1, xmax=1.7, ymin=-6, ymax=2,
  xtick={1.1,1.2,1.3,1.4,1.5,1.6,1.7}, xticklabels={1.1,1.2,1.3,1.4,1.5,1.6,1.7},
  ytick={-6,-4,-2,0,2}, yticklabels={−6,−4,−2,0,2}, minor x tick num=4, minor y tick num=3,
  xlabel={log (Stellar Mass [M$_\odot$])}, xlabel style={at={(axis description cs:0.5,-0.142)}},
  ylabel={log (Mass Yield of Element)}, ylabel style={at={(axis description cs:-0.177,0.5)}}]
\addplot[fitline] coordinates {(1.1,-0.467) (1.602,1.037)};
\addplot[fitline] coordinates {(1.1,-1.262) (1.602,-0.156)};
\addplot[fitline] coordinates {(1.1,-1.138) (1.602,-1.102)};
\addplot[fitline] coordinates {(1.1,-2.535) (1.602,-1.523)};
\addplot[fitline] coordinates {(1.1,-4.080) (1.602,-3.610)};
\addplot[dTi] coordinates {(1.114,-3.98) (1.176,-4.09) (1.255,-3.94) (1.301,-3.84) (1.398,-3.90) (1.477,-3.72) (1.602,-3.55)};
\addplot[dCa] coordinates {(1.114,-2.33) (1.176,-2.75) (1.255,-2.08) (1.301,-2.04) (1.398,-2.10) (1.477,-1.93) (1.602,-1.43)};
\addplot[dMg] coordinates {(1.114,-1.15) (1.176,-1.14) (1.255,-1.24) (1.301,-0.61) (1.398,-0.74) (1.477,-0.53) (1.602,-0.14)};
\addplot[dFe] coordinates {(1.114,-1.14) (1.176,-1.14) (1.255,-1.14) (1.301,-1.14) (1.398,-1.14) (1.477,-1.14) (1.602,-1.12)};
\addplot[dO] coordinates {(1.114,-0.30) (1.176,-0.53) (1.255,-0.36) (1.301,0.33) (1.398,0.58) (1.477,0.73) (1.602,0.93)};
\node[draw=black!60, fill=white, anchor=south west, inner xsep=1.0mm, inner ysep=0.5mm, font=\fontsize{4.4}{5.1}\selectfont, text=black!80] at (axis cs:1.1123,-5.72) {%
\def\arraystretch{1}\begin{tabular}{@{}l@{\hspace{1.2mm}}l@{\hspace{1.8mm}}l@{}}
{\color{black}●} Fe: & β = 6.067 ×10\textsuperscript{−2} M\textsubscript{⊙}, & ε = 0.0716\\
{\color{black}●} O: & β = 1.722 ×10\textsuperscript{−4} M\textsubscript{⊙}, & ε = 2.997\\
{\color{black!70}●} Mg: & β = 2.065 ×10\textsuperscript{−4} M\textsubscript{⊙}, & ε = 2.203\\
{\color{black!55}●} Ca: & β = 1.763 ×10\textsuperscript{−5} M\textsubscript{⊙}, & ε = 2.017\\
{\color{black!40}●} Ti: & β = 7.743 ×10\textsuperscript{−6} M\textsubscript{⊙}, & ε = 0.937
\end{tabular}};
\end{axis}
% ---------------- right: linear mass, log yield
\begin{axis}[yieldax, ymode=log, width=48.3mm, height=51.8mm, at={(170.5mm,-6.2mm)}, anchor=north west,
  xmin=10, xmax=40, ymin=1e-6, ymax=1e2,
  xtick={10,15,20,25,30,35,40}, xticklabels={10,15,20,25,30,35,40}, minor x tick num=4,
  ytick={1e-6,1e-4,1e-2,1,1e2}, yticklabels={10\textsuperscript{−6},10\textsuperscript{−4},10\textsuperscript{−2},10\textsuperscript{0},10\textsuperscript{2}},
  minor ytick={1e-5,1e-3,1e-1,1e1},
  xlabel={Stellar Mass [M$_\odot$]}, xlabel style={at={(axis description cs:0.5,-0.145)}},
  ylabel={Mass Yield of Element}, ylabel style={at={(axis description cs:-0.232,0.5)}}]
\addplot[fitline, smooth] coordinates {(10,0.171) (12.5,0.333) (15,0.577) (20,1.365) (25,2.665) (30,4.60) (35,7.30) (40,10.9)};
\addplot[fitline, smooth] coordinates {(10,0.0330) (12.5,0.0539) (15,0.0806) (20,0.152) (25,0.248) (30,0.371) (35,0.521) (40,0.699)};
\addplot[fitline, smooth] coordinates {(10,0.0715) (15,0.0737) (20,0.0752) (25,0.0764) (30,0.0774) (35,0.0782) (40,0.0790)};
\addplot[fitline, smooth] coordinates {(10,0.001834) (12.5,0.002877) (15,0.004154) (20,0.00742) (25,0.01164) (30,0.0168) (35,0.02293) (40,0.0300)};
\addplot[fitline, smooth] coordinates {(10,6.70e-5) (12.5,8.26e-5) (15,9.79e-5) (20,1.282e-4) (25,1.580e-4) (30,1.875e-4) (35,2.166e-4) (40,2.455e-4)};
\addplot[dTi] coordinates {(13,1.05e-4) (15,8.1e-5) (18,1.15e-4) (20,1.45e-4) (25,1.26e-4) (30,1.9e-4) (40,2.8e-4)};
\addplot[dCa] coordinates {(13,0.00468) (15,0.00178) (18,0.00832) (20,0.00912) (25,0.00794) (30,0.01175) (40,0.0372)};
\addplot[dMg] coordinates {(13,0.0708) (15,0.0724) (18,0.0575) (20,0.245) (25,0.182) (30,0.295) (40,0.724)};
\addplot[dFe] coordinates {(13,0.0724) (15,0.0724) (18,0.0724) (20,0.0724) (25,0.0724) (30,0.0724) (40,0.0759)};
\addplot[dO] coordinates {(13,0.50) (15,0.295) (18,0.44) (20,2.14) (25,3.80) (30,5.37) (40,8.51)};
\end{axis}
% ---------------- slide texts
\begin{scope}[every node/.style={inner sep=0pt}]
\node[anchor=base, text=cO, font=\arial\fontsize{21.5}{24}\selectfont] at (151.2mm,-9.4mm) {O};
\node[anchor=base, text=cMg, font=\arial\fontsize{21.5}{24}\selectfont] at (151.2mm,-18.6mm) {Mg};
\node[anchor=base, text=cFe, font=\arial\fontsize{21.5}{24}\selectfont] at (151.2mm,-27.3mm) {Fe};
\node[anchor=base, text=cCa, font=\arial\fontsize{21.5}{24}\selectfont] at (151.2mm,-36.0mm) {Ca};
\node[anchor=base, text=cTi, font=\arial\fontsize{21.5}{24}\selectfont] at (151.2mm,-44.5mm) {Ti};
\node[anchor=base, text=kred, font=\arial\fontsize{18}{20}\selectfont] at (195.6mm,-54.4mm) {Nomoto+ (2006)};
\node[anchor=base west, text=kred, font=\arial\fontsize{25.5}{28}\selectfont] at (110.6mm,-76.4mm) {K\raisebox{-2pt}{\fontsize{16}{16}\selectfont x} = “strength” of MDYs};
\node[anchor=base, font=\arial\fontsize{18}{20}\selectfont] (eqn) at (139.8mm,-89.0mm) {Eqn. for MDYs};
\draw[line width=0.3mm] ([yshift=-0.6mm]eqn.base west) -- ([yshift=-0.6mm]eqn.base east);
\node[anchor=base, font=\arial\fontsize{17.6}{20}\selectfont] at (140.1mm,-96.7mm) {M\xsub{x} = B\xsub{x} (m\_star)\xsup{Kx}};
\node[anchor=base west, text=cO, font=\arial\fontsize{17.8}{20}\selectfont] at (177.6mm,-86.4mm) {K\ksub{O} = 2.997};
\node[anchor=base west, text=cMg, font=\arial\fontsize{17.8}{20}\selectfont] at (177.6mm,-93.9mm) {K\ksub{Mg} = 2.203};
\node[anchor=base west, text=cFe, font=\arial\fontsize{17.8}{20}\selectfont] at (177.6mm,-101.4mm) {K\ksub{Fe} = 0.0716};
\node[anchor=base west, text=cCa, font=\arial\fontsize{17.8}{20}\selectfont] at (177.6mm,-108.9mm) {K\ksub{Ca} = 2.017};
\node[anchor=base west, text=cTi, font=\arial\fontsize{17.8}{20}\selectfont] at (177.6mm,-116.5mm) {K\ksub{Ti} = 0.937};
\end{scope}
\end{tikzpicture}
\end{document}
